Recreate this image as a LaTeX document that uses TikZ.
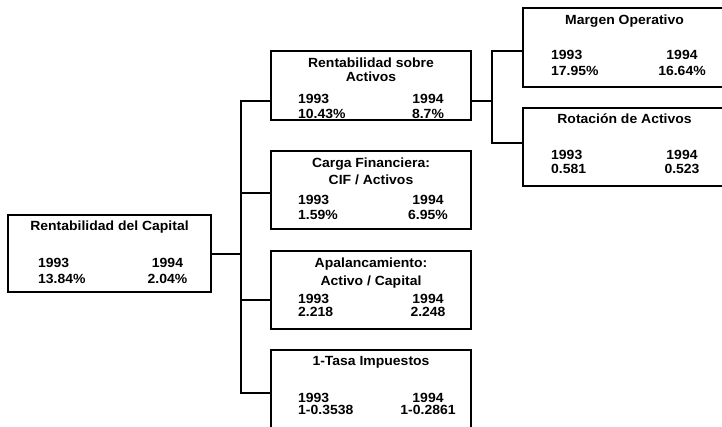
\documentclass[tikz,border=0pt]{standalone}
\usepackage{fontspec}
\setmainfont{Liberation Sans}[FakeStretch=1.05]
\begin{document}
\begin{tikzpicture}[x=1pt,y=-1pt,
  box/.style={draw, line width=2pt, rectangle, inner sep=0pt},
  wire/.style={line width=2pt},
  txt/.style={font=\fontsize{13.3}{15}\selectfont\bfseries, inner sep=0pt, anchor=base},
  col1/.style={txt, anchor=base west}]
\useasboundingbox (0,0) rectangle (722,426);
\path[clip] (0,0) rectangle (722,426);

% boxes
\node[box, minimum width=203pt, minimum height=77pt] (L)  at (109.5,253.5) {};
\node[box, minimum width=200pt, minimum height=69pt] (B1) at (371,85.5) {};
\node[box, minimum width=200pt, minimum height=78pt] (B2) at (371,190) {};
\node[box, minimum width=200pt, minimum height=78pt] (B3) at (371,290) {};
\node[box, minimum width=200pt, minimum height=82pt] (B4) at (371,391) {};
\node[box, minimum width=203pt, minimum height=79pt] (B5) at (624.5,47.5) {};
\node[box, minimum width=203pt, minimum height=78pt] (B6) at (624.5,147) {};

% Rentabilidad del Capital
\node[txt]  (Lt)  at (109.5,230) {Rentabilidad del Capital};
\node[col1] (Ly1) at (38,267) {1993};
\node[col1] (Lv1) at (38,283) {13.84\%};
\node[txt]  (Ly2) at (167.5,267) {1994};
\node[txt]  (Lv2) at (167.5,283) {2.04\%};

% Rentabilidad sobre Activos
\node[txt]  (B1t) at (371,67) {Rentabilidad sobre};
\node[txt]  (B1s) at (371,81.5) {Activos};
\node[col1] (B1y1) at (298,103) {1993};
\node[col1] (B1v1) at (298,118) {10.43\%};
\node[txt]  (B1y2) at (428,103) {1994};
\node[txt]  (B1v2) at (428,118) {8.7\%};

% Carga Financiera
\node[txt]  (B2t) at (371,167.5) {Carga Financiera:};
\node[txt]  (B2s) at (371,184.5) {CIF / Activos};
\node[col1] (B2y1) at (298,204) {1993};
\node[col1] (B2v1) at (298,219) {1.59\%};
\node[txt]  (B2y2) at (428,204) {1994};
\node[txt]  (B2v2) at (428,219) {6.95\%};

% Apalancamiento
\node[txt]  (B3t) at (371,267) {Apalancamiento:};
\node[txt]  (B3s) at (371,285) {Activo / Capital};
\node[col1] (B3y1) at (298,303) {1993};
\node[col1] (B3v1) at (298,316) {2.218};
\node[txt]  (B3y2) at (428,303) {1994};
\node[txt]  (B3v2) at (428,316) {2.248};

% 1-Tasa Impuestos
\node[txt]  (B4t) at (371,365.5) {1-Tasa Impuestos};
\node[col1] (B4y1) at (298,402) {1993};
\node[col1] (B4v1) at (298,414) {1-0.3538};
\node[txt]  (B4y2) at (428,402) {1994};
\node[txt]  (B4v2) at (428,414) {1-0.2861};

% Margen Operativo
\node[txt]  (B5t) at (624.5,24.5) {Margen Operativo};
\node[col1] (B5y1) at (551,59) {1993};
\node[col1] (B5v1) at (551,75) {17.95\%};
\node[txt]  (B5y2) at (682,59) {1994};
\node[txt]  (B5v2) at (682,75) {16.64\%};

% Rotacion de Activos
\node[txt]  (B6t) at (624.5,123.5) {Rotación de Activos};
\node[col1] (B6y1) at (551,159) {1993};
\node[col1] (B6v1) at (551,173.5) {0.581};
\node[txt]  (B6y2) at (682,159) {1994};
\node[txt]  (B6v2) at (682,173.5) {0.523};

% left tree
\coordinate (j1) at (241,101);
\coordinate (j2) at (241,193);
\coordinate (j3) at (241,300);
\coordinate (j4) at (241,393);
\draw[wire] (L.east) -- (L.east -| j1);
\draw[wire, line cap=rect] (j1) -- (j4);
\draw[wire] (j1) -- (j1 -| B1.west);
\draw[wire] (j2) -- (j2 -| B2.west);
\draw[wire] (j3) -- (j3 -| B3.west);
\draw[wire] (j4) -- (j4 -| B4.west);

% right tree
\coordinate (k0) at (492,101);
\coordinate (k1) at (492,51);
\coordinate (k2) at (492,143);
\draw[wire] (k0 -| B1.east) -- (k0);
\draw[wire, line cap=rect] (k1) -- (k2);
\draw[wire] (k1) -- (k1 -| B5.west);
\draw[wire] (k2) -- (k2 -| B6.west);
\end{tikzpicture}
\end{document}
